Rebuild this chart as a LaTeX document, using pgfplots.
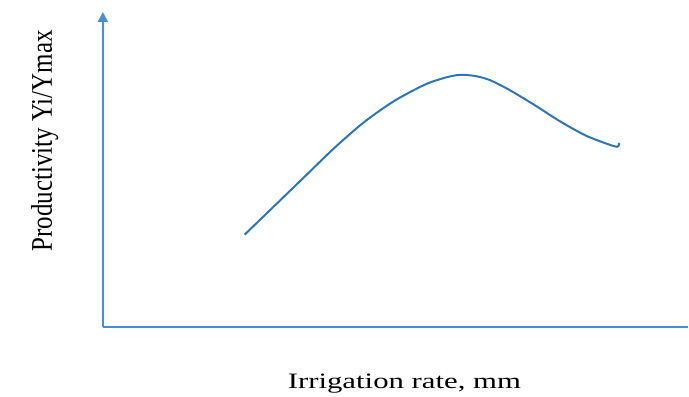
\documentclass[border=0pt]{standalone}
\usepackage{fontspec}
\setmainfont{Liberation Serif}
\usepackage{graphicx}
\usepackage{pgfplots}
\pgfplotsset{compat=1.18}
\usetikzlibrary{arrows.meta}
\definecolor{curveblue}{HTML}{2E75B6}
\definecolor{axisblue}{HTML}{4A90D0}

\begin{document}
\begin{tikzpicture}
  \begin{axis}[
    at={(0pt,0pt)}, anchor=origin,
    scale only axis,
    width=586pt, height=315pt,
    xmin=0, xmax=586,
    ymin=0, ymax=315,
    axis x line=bottom,
    axis y line=left,
    x axis line style={-, line width=2pt, color=axisblue},
    y axis line style={-{Triangle[width=10pt,length=10pt]}, line width=2pt, color=axisblue},
    xtick=\empty, ytick=\empty,
    clip=false,
  ]
  % values in picture units (axis origin at lower left)
  \addplot[curveblue, line width=2pt, smooth] coordinates {
    (142,92) (172,121) (202,150) (232,179) (262,205) (292,226)
    (322,242) (342,249) (357,252) (372,251) (387,247) (407,237)
    (432,222) (457,206) (482,192) (502,184) (515,180) (517,184)
  };
  \end{axis}
  \node[rotate=90, anchor=base, font=\fontsize{25}{30}\selectfont]
    at (-51pt,186pt) {\scalebox{1}[1.2]{Productivity Yi/Ymax}};
  \node[anchor=base, font=\fontsize{22}{26}\selectfont]
    at (302pt,-62pt) {\scalebox{1.4}[1]{Irrigation rate, mm}};
  \path[use as bounding box] (-103pt,-65pt) rectangle (586pt,327pt);
\end{tikzpicture}
\end{document}
